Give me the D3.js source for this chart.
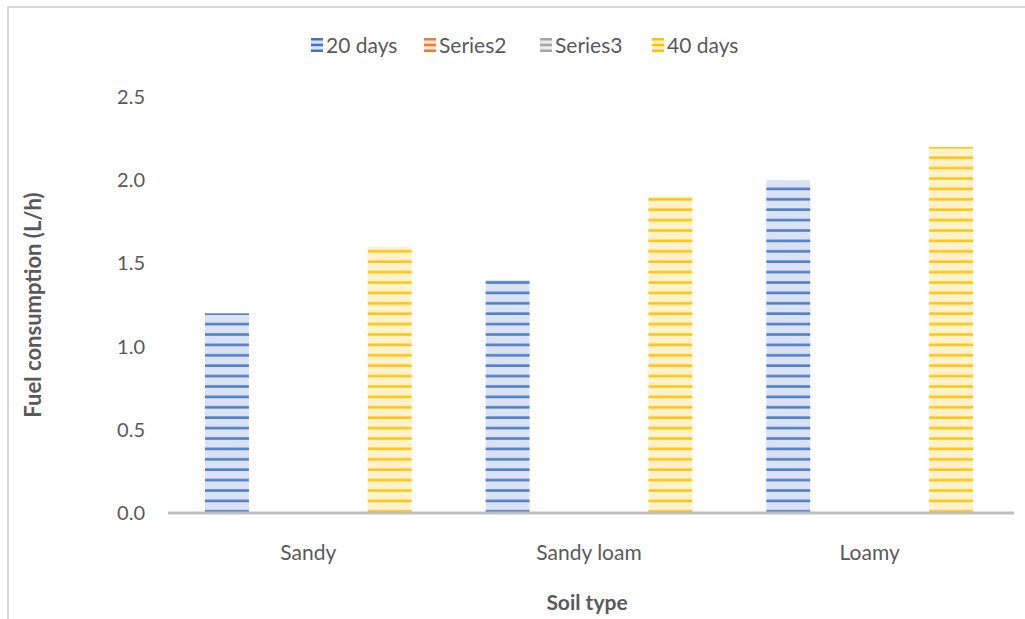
<!DOCTYPE html>
<html>
<head>
<meta charset="utf-8">
<script src="https://cdn.jsdelivr.net/npm/d3@7"></script>
<style>
  body { margin: 0; background: #fff; }
  svg text { font-family: "Lato", "Open Sans", sans-serif; fill: #595959; }
</style>
</head>
<body>
<svg id="chart" width="1025" height="619"></svg>
<script>
// data
var categories = ["Sandy", "Sandy loam", "Loamy"];
var seriesNames = ["20 days", "Series2", "Series3", "40 days"];
var days20 = [1.2, 1.4, 2.0];
var series2 = [0, 0, 0];
var series3 = [0, 0, 0];
var days40 = [1.6, 1.9, 2.2];
var yTicks = [0, 0.5, 1.0, 1.5, 2.0, 2.5];

var colori = [
  {light: "#dae3f3", dark: "#4472c4"},
  {light: "#fbe5d6", dark: "#ed7d31"},
  {light: "#ededed", dark: "#a5a5a5"},
  {light: "#fff2cc", dark: "#ffc000"}
];

var allSeries = [days20, series2, series3, days40];

var margin = {top: 97, right: 15, bottom: 106, left: 168},
    width = 1025 - margin.left - margin.right,
    height = 619 - margin.top - margin.bottom;

var svg = d3.select("#chart");

// outer frame (only left/top edges visible)
svg.append("rect")
  .attr("x", 8).attr("y", 7)
  .attr("width", 1040).attr("height", 640)
  .attr("fill", "none")
  .attr("stroke", "#d9d9d9")
  .attr("stroke-width", 2);

// stripe patterns
var defs = svg.append("defs");
colori.forEach(function(c, i) {
  var p = defs.append("pattern")
    .attr("id", "stripe" + i)
    .attr("patternUnits", "userSpaceOnUse")
    .attr("width", 10).attr("height", 10.4)
    .attr("y", margin.top + height);
  p.append("rect").attr("width", 10).attr("height", 10.4).attr("fill", c.light);
  p.append("rect").attr("y", 4).attr("width", 10).attr("height", 2.6).attr("fill", c.dark).attr("opacity", 0.9);
});

var g = svg.append("g")
  .attr("transform", "translate(" + margin.left + "," + margin.top + ")");

var y = d3.scaleLinear()
  .domain([0, 2.5])
  .range([height, 0]);

// rows of bar data
var rows = [];
categories.forEach(function(cat, ci) {
  allSeries.forEach(function(s, si) {
    rows.push({cat: cat, s: si, v: s[ci]});
  });
});

// categories placed with step of full width/3
var step = width / categories.length;
var xc = d3.scalePoint().domain(categories).range([step / 2, width - step / 2]);

var groupW = 217;
var x1b = d3.scaleBand()
  .domain(d3.range(seriesNames.length))
  .range([-groupW / 2, groupW / 2])
  .paddingInner(0.19)
  .paddingOuter(0.095);

g.selectAll("rect.bar")
  .data(rows.filter(function(d) { return d.v > 0; }))
  .enter()
  .append("rect")
  .attr("class", "bar")
  .attr("x", function(d) { return xc(d.cat) + x1b(d.s); })
  .attr("y", function(d) { return y(d.v); })
  .attr("width", x1b.bandwidth())
  .attr("height", function(d) { return height - y(d.v); })
  .attr("fill", function(d) { return "url(#stripe" + d.s + ")"; });

// y axis
var yAxis = g.append("g")
  .call(d3.axisLeft(y).tickValues(yTicks).tickFormat(d3.format(".1f")).tickSize(0).tickPadding(23));
yAxis.select(".domain").remove();
yAxis.selectAll("text")
  .style("font-size", "20px")
  .style("font-family", "Lato, sans-serif")
  .style("fill", "#595959");

// baseline
g.append("line")
  .attr("x1", 0).attr("x2", width + 4)
  .attr("y1", y(0)).attr("y2", y(0))
  .attr("stroke", "#bfbfbf")
  .attr("stroke-width", 3);

// x labels
g.selectAll("text.cat")
  .data(categories)
  .enter()
  .append("text")
  .attr("class", "cat")
  .attr("x", function(d) { return xc(d); })
  .attr("y", y(0) + 47)
  .attr("text-anchor", "middle")
  .style("font-size", "21px")
  .text(function(d) { return d; });

// axis titles
svg.append("text")
  .attr("transform", "translate(41,305) rotate(-90)")
  .attr("text-anchor", "middle")
  .style("font-size", "22px")
  .style("font-weight", "bold")
  .text("Fuel consumption (L/h)");

svg.append("text")
  .attr("x", margin.left + width / 2 - 2)
  .attr("y", 610)
  .attr("text-anchor", "middle")
  .style("font-size", "21px")
  .style("font-weight", "bold")
  .text("Soil type");

// legend
var legendX = [311, 424, 540, 652];
var legenda = svg.selectAll("g.leg")
  .data(seriesNames)
  .enter()
  .append("g")
  .attr("class", "leg")
  .attr("transform", function(d, i) { return "translate(" + legendX[i] + ",38)"; });

legenda.append("rect")
  .attr("width", 12).attr("height", 14)
  .attr("fill", function(d, i) { return colori[i].light; });
legenda.append("rect")
  .attr("width", 12).attr("height", 2.5)
  .attr("fill", function(d, i) { return colori[i].dark; });
legenda.append("rect")
  .attr("y", 5.7).attr("width", 12).attr("height", 2.5)
  .attr("fill", function(d, i) { return colori[i].dark; });
legenda.append("rect")
  .attr("y", 11.5).attr("width", 12).attr("height", 2.5)
  .attr("fill", function(d, i) { return colori[i].dark; });

legenda.append("text")
  .attr("x", 15)
  .attr("y", 15)
  .style("font-size", "21px")
  .text(function(d) { return d; });
</script>
</body>
</html>
